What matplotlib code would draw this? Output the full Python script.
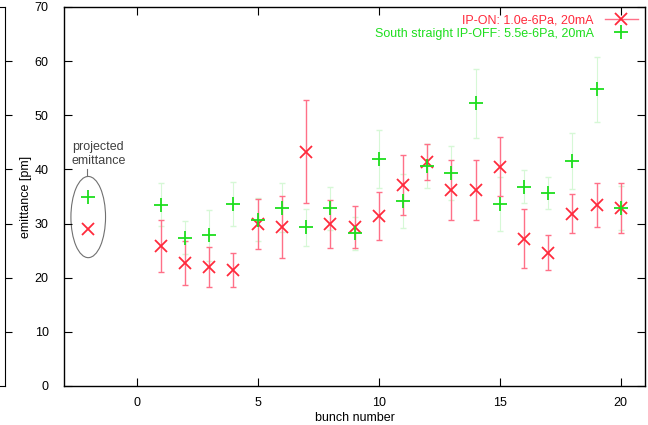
import numpy as np
import matplotlib
matplotlib.use("Agg")
import matplotlib.pyplot as plt
from matplotlib.patches import Ellipse
from matplotlib.lines import Line2D

plt.rcParams.update({"font.family": ["Liberation Sans", "DejaVu Sans"],
                     "font.size": 9})

bunch = np.arange(1, 21)
# IP-ON (red X)
on_val = [25.9, 22.7, 22.0, 21.4, 29.9, 29.3, 43.3, 29.9, 29.4, 31.4,
          37.1, 41.3, 36.2, 36.2, 40.5, 27.2, 24.6, 31.8, 33.4, 32.9]
on_err = [4.8, 4.1, 3.7, 3.2, 4.6, 5.7, 9.5, 4.4, 3.9, 4.5,
          5.5, 3.3, 5.6, 5.6, 5.5, 5.4, 3.2, 3.6, 4.0, 4.6]
# South straight IP-OFF (green +)
off_val = [33.5, 27.4, 27.8, 33.6, 30.7, 32.9, 29.3, 32.8, 28.2, 41.9,
           34.2, 40.6, 39.3, 52.2, 33.6, 36.8, 35.6, 41.6, 54.8, 32.9]
off_err = [4.0, 3.0, 4.7, 4.0, 4.0, 4.5, 3.4, 4.0, 3.0, 5.4,
           5.0, 4.0, 5.0, 6.4, 5.0, 3.0, 3.0, 5.2, 6.0, 4.0]
# projected emittance
proj_x = -2
proj_on = 29.0
proj_off = 34.9

red = "#ff2a3c"
red_bar = "#ff7088"
green = "#1ede1e"
green_bar = "#d6f8d6"

fig = plt.figure(figsize=(6.48, 4.25), dpi=100)
ax = fig.add_axes([0.0988, 0.0918, 0.8966, 0.8918])

ax.errorbar(bunch, on_val, yerr=on_err, fmt="none", ecolor=red_bar,
            elinewidth=1.0, capsize=2, zorder=2)
ax.plot(bunch, on_val, "x", color=red, ms=9, mew=1.3, zorder=3)
ax.plot([proj_x], [proj_on], "x", color=red, ms=9, mew=1.3, zorder=3)

ax.errorbar(bunch, off_val, yerr=off_err, fmt="none", ecolor=green_bar,
            elinewidth=0.8, capsize=2, zorder=1)
ax.plot(bunch, off_val, "+", color=green, ms=10, mew=1.3, zorder=4)
ax.plot([proj_x], [proj_off], "+", color=green, ms=10, mew=1.3, zorder=4)

ax.add_patch(Ellipse((-2, 31.2), 1.43, 15, fc="none", ec="#707070", lw=0.8))
ax.plot([-2.05, -2.05], [38.7, 40.0], color="#707070", lw=0.8)
ax.text(-2.68, 45.2, "projected\nemittance", color="#404040", fontsize=9,
        va="top", ha="left")

ax.set_xlim(-3, 21)
ax.set_ylim(0, 70)
ax.set_xticks([0, 5, 10, 15, 20])
ax.set_yticks(np.arange(0, 71, 10))
ax.tick_params(direction="in", length=6, width=0.8, top=True, right=True,
               labelsize=9)
ax.tick_params(axis="y", pad=11)
ax.tick_params(axis="x", pad=8)
for s in ax.spines.values():
    s.set_linewidth(1.0)
ax.set_xlabel("bunch number", fontsize=9, labelpad=2)
ax.set_ylabel("emittance [pm]", fontsize=9, labelpad=2)

h_on = Line2D([], [], color=red_bar, lw=1.0, marker="x", mec=red, ms=9, mew=1.3)
h_off = Line2D([], [], ls="none", marker="+", mec=green, ms=10, mew=1.3)
leg = ax.legend([h_on, h_off],
                ["IP-ON: 1.0e-6Pa, 20mA",
                 "South straight IP-OFF: 5.5e-6Pa, 20mA"],
                loc="upper right", frameon=False, markerfirst=False,
                fontsize=9, handlelength=2.6, handletextpad=0.9,
                labelspacing=0.1, borderaxespad=0.2)
for t, c in zip(leg.get_texts(), [red, green]):
    t.set_color(c)

# leftover frame edge of a neighbouring plot
ax2 = fig.add_axes([-0.05, 0.0918, 0.058, 0.8918])
ax2.set_xlim(0, 1)
ax2.set_ylim(0, 70)
ax2.spines["left"].set_visible(False)
ax2.set_xticks([])
ax2.set_yticks(np.arange(10, 61, 10))
ax2.yaxis.tick_right()
ax2.tick_params(axis="y", direction="out", length=5, labelright=False)
ax2.patch.set_alpha(0)

fig.savefig("out.png", dpi=100, facecolor="white")
